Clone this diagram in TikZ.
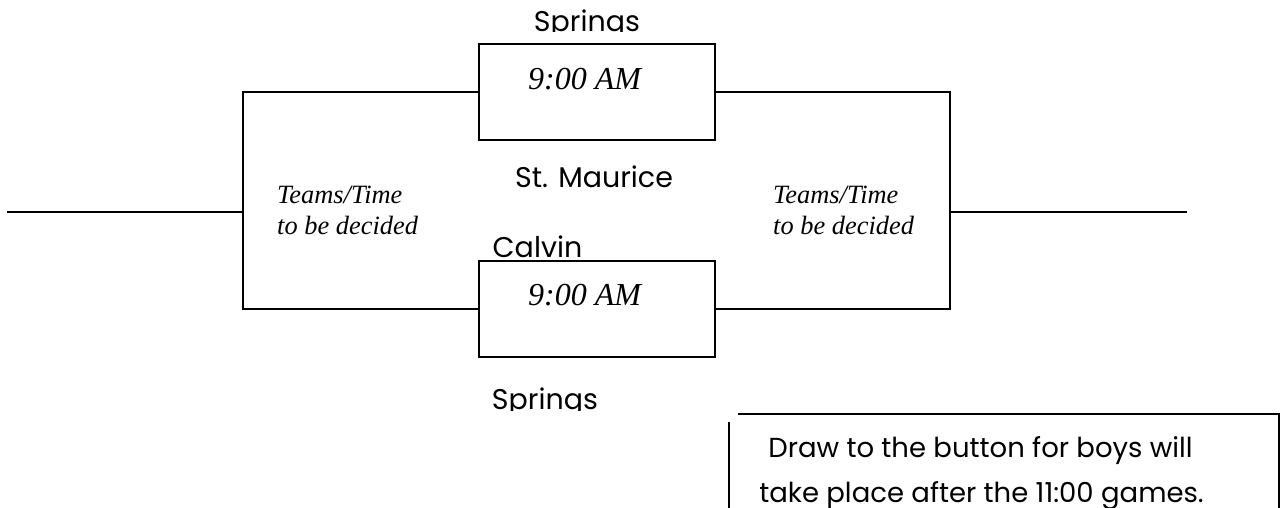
\documentclass[tikz,border=0pt]{standalone}
\usepackage{fontspec}
\setmainfont{Liberation Serif}
\newfontfamily\sansfam[Ligatures=NoCommon]{Poppins}
\begin{document}
\begin{tikzpicture}[x=1pt,y=-1pt,
  line/.style={line width=2pt,line cap=rect},
  game/.style={draw,line width=2pt,fill=white,minimum width=236pt,minimum height=96pt,inner sep=0pt},
  team/.style={font=\sansfam\fontsize{28.5}{32}\selectfont,anchor=base,inner sep=0pt},
  timetxt/.style={font=\itshape\fontsize{32}{36}\selectfont,anchor=base west,inner sep=0pt},
  tbd/.style={font=\itshape\fontsize{26.4}{30}\selectfont,anchor=base west,inner sep=0pt},
  note/.style={font=\sansfam\fontsize{27.5}{32}\selectfont,anchor=base,inner sep=0pt}]
\path[use as bounding box] (0,0) rectangle (1286,508);
\clip (0,0) rectangle (1286,508);
% team names
\begin{scope}
  \clip (0,0) rectangle (1286,32);
  \node[team] (t1) at (587,32) {Springs};
\end{scope}
\node[team] (t2) at (594,188) {St. Maurice};
\node[team] (t3) at (537.5,258) {Calvin};
\begin{scope}
  \clip (0,0) rectangle (1286,410);
  \node[team] (t4) at (545,409) {Springs};
\end{scope}
% game boxes
\node[game] (g1) at (596.5,92) {};
\node[game] (g2) at (596.5,308.5) {};
\node[timetxt] (tm1) at (528,90) {9:00 AM};
\node[timetxt] (tm2) at (528,305) {9:00 AM};
% brackets
\coordinate (lb) at (243,212);
\coordinate (rb) at (950,212);
\coordinate (lin) at (8,212);
\coordinate (rout) at (1186,212);
\draw[line] (g1.west) -| (lb) |- (g2.west);
\draw[line] (g1.east) -| (rb) |- (g2.east);
\draw[line] (lin) -- (lb);
\draw[line] (rb) -- (rout);
% to be decided
\node[tbd] (l1) at (277,204) {Teams/Time};
\node[tbd] (l2) at (277,234) {to be decided};
\node[tbd] (r1) at (773,204) {Teams/Time};
\node[tbd] (r2) at (773,234) {to be decided};
% note box
\coordinate (ntl) at (738,414);
\coordinate (ntr) at (1279,414);
\coordinate (nbr) at (1279,520);
\coordinate (nlt) at (729,422);
\coordinate (nlb) at (729,520);
\draw[line width=2pt] (ntl) -- (ntr) -- (nbr);
\draw[line width=2pt] (nlt) -- (nlb);
\node[note] (n1) at (980.5,457) {Draw to the button for boys will};
\node[note] (n2) at (981.5,502) {take place after the 11:00 games.};
\end{tikzpicture}
\end{document}
